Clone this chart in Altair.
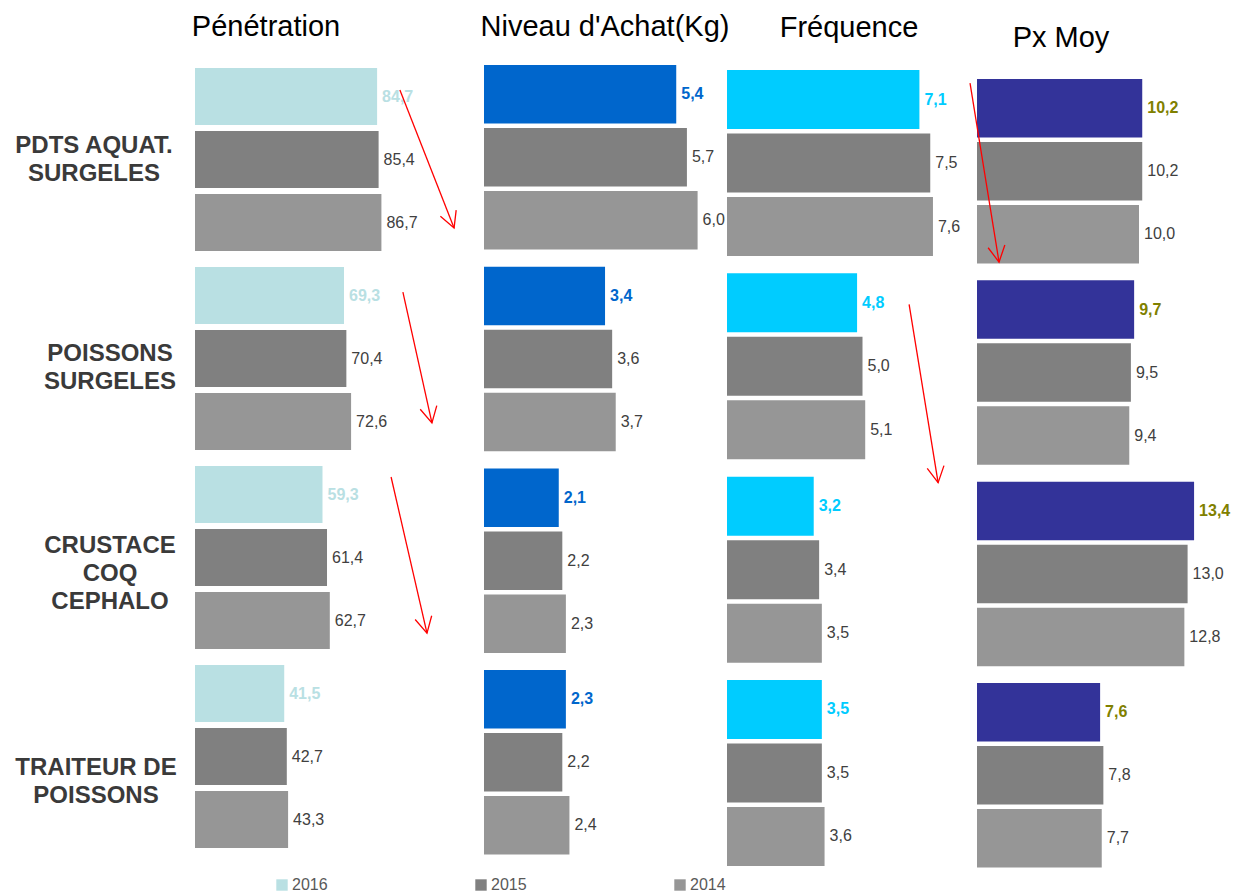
import altair as alt
import pandas as pd

FONT = "Liberation Sans"

# Categories (top to bottom) and how their names are broken over lines
groups = ["PDTS AQUAT. SURGELES", "POISSONS SURGELES", "CRUSTACE COQ CEPHALO", "TRAITEUR DE POISSONS"]
group_lines = ["PDTS AQUAT.\nSURGELES", "POISSONS\nSURGELES", "CRUSTACE\nCOQ\nCEPHALO", "TRAITEUR DE\nPOISSONS"]
years = ["2016", "2015", "2014"]

# Pénétration (%)
penetration_2016 = [84.7, 69.3, 59.3, 41.5]
penetration_2015 = [85.4, 70.4, 61.4, 42.7]
penetration_2014 = [86.7, 72.6, 62.7, 43.3]

# Niveau d'achat (kg)
niveau_2016 = [5.4, 3.4, 2.1, 2.3]
niveau_2015 = [5.7, 3.6, 2.2, 2.2]
niveau_2014 = [6.0, 3.7, 2.3, 2.4]

# Fréquence
frequence_2016 = [7.1, 4.8, 3.2, 3.5]
frequence_2015 = [7.5, 5.0, 3.4, 3.5]
frequence_2014 = [7.6, 5.1, 3.5, 3.6]

# Prix moyen
pxmoy_2016 = [10.2, 9.7, 13.4, 7.6]
pxmoy_2015 = [10.2, 9.5, 13.0, 7.8]
pxmoy_2014 = [10.0, 9.4, 12.8, 7.7]

C2015 = "#808080"
C2014 = "#969696"
LABEL_GREY = "#404040"
RED = "#FF0000"
# open "V" arrow head, tip at the symbol origin, pointing down
HEAD = "M -0.47 -0.88 L 0 0 L 0.47 -0.88"


def fmt(v):
    return f"{v:.1f}".replace(".", ",")


def table(s16, s15, s14):
    rows = []
    for year, series in zip(years, [s16, s15, s14]):
        for g, v in zip(groups, series):
            rows.append({"group": g, "year": year, "v": v, "label": fmt(v)})
    return pd.DataFrame(rows)


def panel(title, title_x, title_y, df, color16, label16, x_off, width, per_unit,
          y_range, pad_group, pad_year, arrows, legend=None, extra=()):
    xs = alt.Scale(domain=[0, width / per_unit], range=[x_off, x_off + width], nice=False, zero=False)
    ys = alt.Scale(domain=groups, range=y_range, paddingInner=pad_group, paddingOuter=0)
    yo = alt.Scale(domain=years, paddingInner=pad_year, paddingOuter=0)

    enc = dict(
        x=alt.X("v:Q", scale=xs, axis=None),
        y=alt.Y("group:N", scale=ys, axis=None),
        yOffset=alt.YOffset("year:N", scale=yo),
    )
    base = alt.Chart(df)
    bars = base.mark_bar().encode(
        color=alt.Color("year:N", scale=alt.Scale(domain=years, range=[color16, C2015, C2014]), legend=legend),
        **enc,
    )
    txt16 = base.transform_filter(alt.datum.year == "2016").mark_text(
        align="left", baseline="middle", dx=5, font=FONT, fontSize=16, fontWeight="bold", color=label16
    ).encode(text="label:N", **enc)
    txt_old = base.transform_filter(alt.datum.year != "2016").mark_text(
        align="left", baseline="middle", dx=5, font=FONT, fontSize=16, color=LABEL_GREY
    ).encode(text="label:N", **enc)

    head = alt.Chart(pd.DataFrame({"t": [title]})).mark_text(
        font=FONT, fontSize=29, color="#000000", baseline="middle", align="center"
    ).encode(text="t:N", x=alt.value(title_x), y=alt.value(title_y))

    layers = [bars, txt16, txt_old, head]
    for (x1, g1, p1, x2, g2, p2, ang) in arrows:
        adf = pd.DataFrame({"x": [x1], "x2": [x2], "g": [g1], "g2": [g2]})
        shaft = alt.Chart(adf).mark_rule(color=RED, strokeWidth=1.3).encode(
            x=alt.X("x:Q", scale=xs, axis=None),
            x2=alt.X2("x2"),
            y=alt.Y("g:N", scale=ys, axis=None, bandPosition=p1),
            y2=alt.Y2("g2", bandPosition=p2),
        )
        tip = alt.Chart(adf).mark_point(
            shape=HEAD, size=1300, filled=False, stroke=RED, strokeWidth=1.3, opacity=1, angle=ang
        ).encode(
            x=alt.X("x2:Q", scale=xs, axis=None),
            y=alt.Y("g2:N", scale=ys, axis=None, bandPosition=p2),
        )
        layers += [shaft, tip]
    layers += list(extra(ys) if callable(extra) else extra)
    return alt.layer(*layers)


# Category names on the left; dy puts the first line in place
def category_labels(ys):
    out = []
    offsets = [(-101, -13.5), (-85, -4.5), (-85, -11.5), (-99, 11)]
    for g, lines, (xv, dy) in zip(groups, group_lines, offsets):
        out.append(
            alt.Chart(pd.DataFrame({"group": [g], "name": [lines]})).mark_text(
                font=FONT, fontSize=24, fontWeight="bold", color="#3A3A3A", align="center",
                baseline="middle", lineBreak="\n", lineHeight=28, dy=dy
            ).encode(text="name:N", x=alt.value(xv), y=alt.Y("group:N", scale=ys, axis=None))
        )
    return out


legend16 = alt.Legend(
    title=None, orient="none", legendX=79, legendY=817, direction="horizontal",
    symbolType="square", symbolSize=130, symbolStrokeWidth=0, labelFont=FONT, labelFontSize=16,
    labelColor="#595959", labelOffset=2, columnPadding=145, padding=0,
)

p1 = panel(
    "Pénétration", 71, -33, table(penetration_2016, penetration_2015, penetration_2014),
    "#B9E0E3", "#B9E0E3", 0, 289, 2.15, [8, 788], 16 / 199, 6 / 63,
    arrows=[
        (95.3, groups[0], 0.12, 120.5, groups[0], 0.874, 338.6),
        (96.7, groups[1], 0.137, 110.2, groups[1], 0.852, 347.5),
        (91.2, groups[2], 0.06, 107.9, groups[2], 0.913, 347.0),
    ],
    legend=legend16, extra=category_labels,
)
p2 = panel(
    "Niveau d'Achat(Kg)", 410, -33, table(niveau_2016, niveau_2015, niveau_2014),
    "#0066CC", "#0066CC", 289, 243, 35.6, [5, 794.6], 0.0853, 0.0714, arrows=[],
)
p3 = panel(
    "Fréquence", 654, -32, table(frequence_2016, frequence_2015, frequence_2014),
    "#00CCFF", "#00CCFF", 532, 250, 27.1, [10, 806], 0.0851, 0.0709,
    arrows=[(6.72, groups[1], 0.167, 7.79, groups[2], 0.032, 350.9)],
)
p4 = panel(
    "Px Moy", 866, -22, table(pxmoy_2016, pxmoy_2015, pxmoy_2014),
    "#333399", "#808000", 782, 240, 16.2, [19, 807.5], 0.0835, 0.0714,
    arrows=[(-0.43, groups[0], 0.022, 1.36, groups[0], 0.992, 350.8)],
)

chart = (
    alt.layer(p1, p2, p3, p4)
    .resolve_scale(x="independent", y="independent", yOffset="independent", color="independent")
    .properties(
        width=1022, height=810,
        padding={"left": 195, "top": 60, "right": 19, "bottom": 23},
        autosize=alt.AutoSizeParams(type="none"),
        background="#FFFFFF",
    )
    .configure_view(stroke=None)
)

chart.save("out.html", embed_options={"renderer": "svg", "actions": False})
